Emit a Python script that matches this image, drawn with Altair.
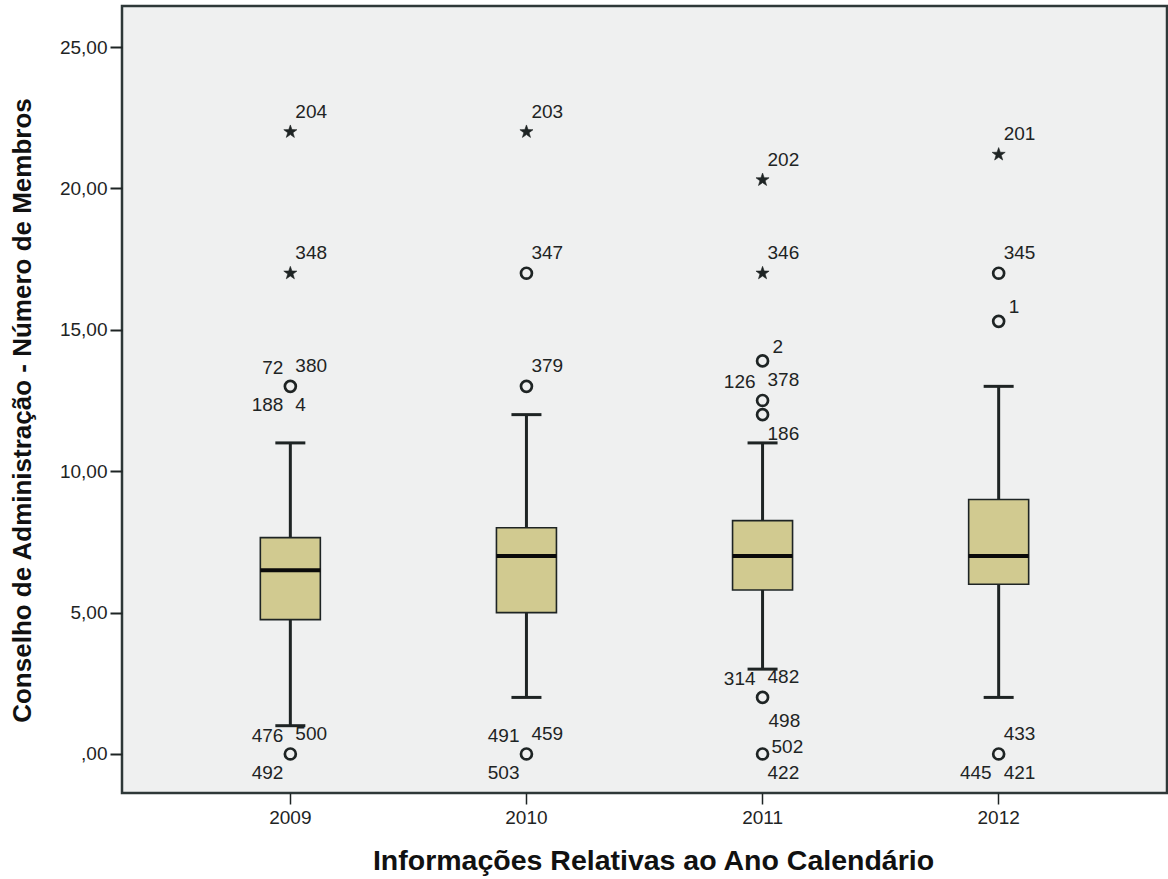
import altair as alt
import pandas as pd

# Box summary per calendar year
years = ["2009", "2010", "2011", "2012"]
whisker_low = [1.0, 2.0, 3.0, 2.0]
q1 = [4.75, 5.0, 5.8, 6.0]
median = [6.5, 7.0, 7.0, 7.0]
q3 = [7.65, 8.0, 8.25, 9.0]
whisker_high = [11.0, 12.0, 11.0, 13.0]

# Outlier points: year, value, kind ("o" = outlier, "x" = extreme)
out_year = ["2009", "2009", "2009", "2009",
            "2010", "2010", "2010", "2010",
            "2011", "2011", "2011", "2011", "2011", "2011", "2011",
            "2012", "2012", "2012", "2012"]
out_value = [22.0, 17.0, 13.0, 0.0,
             22.0, 17.0, 13.0, 0.0,
             20.3, 17.0, 13.9, 12.5, 12.0, 2.0, 0.0,
             21.2, 17.0, 15.3, 0.0]
out_kind = ["x", "x", "o", "o",
            "x", "o", "o", "o",
            "x", "x", "o", "o", "o", "o", "o",
            "x", "o", "o", "o"]

# Case labels next to outliers: year, value, case id, placement
lab_year = ["2009"] * 9 + ["2010"] * 6 + ["2011"] * 11 + ["2012"] * 6
lab_value = [22.0, 17.0, 13.0, 13.0, 13.0, 13.0, 0.0, 0.0, 0.0,
             22.0, 17.0, 13.0, 0.0, 0.0, 0.0,
             20.3, 17.0, 13.9, 12.5, 12.5, 12.0, 2.0, 2.0, 2.0, 0.0, 0.0,
             21.2, 17.0, 15.3, 0.0, 0.0, 0.0]
lab_id = ["204", "348", "72", "380", "188", "4", "476", "500", "492",
          "203", "347", "379", "491", "459", "503",
          "202", "346", "2", "126", "378", "186", "314", "482", "498", "502", "422",
          "201", "345", "1", "433", "445", "421"]
lab_pos = ["ne", "ne", "nw", "ne", "sw", "se", "nw", "ne", "sw",
           "ne", "ne", "ne", "nw", "ne", "sw",
           "ne", "ne", "e", "nw", "ne", "se", "nw", "ne", "s2", "e2", "se",
           "ne", "ne", "e", "ne", "sw", "se"]

boxes = pd.DataFrame({"ano": years, "lo": whisker_low, "q1": q1, "med": median,
                      "q3": q3, "hi": whisker_high})
outs = pd.DataFrame({"ano": out_year, "v": out_value, "kind": out_kind})
labels = pd.DataFrame({"ano": lab_year, "v": lab_value, "id": lab_id, "pos": lab_pos})

FONT = "Liberation Sans"
INK = "#1e2424"

x_enc = alt.X("ano:N", scale=alt.Scale(domain=years, paddingInner=0, paddingOuter=0.213),
              axis=alt.Axis(title="Informações Relativas ao Ano Calendário", labelAngle=0,
                            labelFont=FONT, labelFontSize=19, labelColor=INK, labelPadding=4,
                            tickSize=11, tickWidth=1.5, tickColor=INK, domain=False,
                            titleFont=FONT, titleFontSize=28.5, titleFontWeight="bold",
                            titleColor="#111", titleX=531, titleY=67,
                            titleBaseline="middle", titleAlign="center"))
y_scale = alt.Scale(domain=[-1.38, 26.45], nice=False, zero=False)
y_axis = alt.Axis(title="Conselho de Administração - Número de Membros",
                  values=[0, 5, 10, 15, 20, 25],
                  labelExpr="datum.value == 0 ? ',00' : replace(format(datum.value, '.2f'), '.', ',')",
                  labelFont=FONT, labelFontSize=19, labelColor=INK, labelPadding=3,
                  tickSize=12, tickWidth=2, tickColor=INK, domain=False, grid=False,
                  titleFont=FONT, titleFontSize=26, titleFontWeight="bold", titleColor="#111",
                  titleAngle=270, titleX=-100, titleY=404, titleAlign="center",
                  titleBaseline="middle")

base = alt.Chart(boxes).encode(x=x_enc)

whisk_lo = base.mark_rule(color=INK, strokeWidth=3).encode(
    y=alt.Y("lo:Q", scale=y_scale, axis=y_axis), y2="q1:Q")
whisk_hi = base.mark_rule(color=INK, strokeWidth=3).encode(y=alt.Y("q3:Q"), y2="hi:Q")
box = base.mark_bar(size=60, color="#d1ca90", stroke=INK, strokeWidth=1.6, opacity=1).encode(
    y=alt.Y("q1:Q"), y2="q3:Q")
med = base.mark_tick(size=60, thickness=4, color="#0a0a0a", opacity=1).encode(y=alt.Y("med:Q"))
cap_lo = base.mark_tick(size=30, thickness=3, color=INK, opacity=1).encode(y=alt.Y("lo:Q"))
cap_hi = base.mark_tick(size=30, thickness=3, color=INK, opacity=1).encode(y=alt.Y("hi:Q"))

outs_base = alt.Chart(outs).encode(x=alt.X("ano:N"), y=alt.Y("v:Q"))
circles = outs_base.transform_filter(alt.datum.kind == "o").mark_point(
    shape="circle", size=120, filled=False, stroke=INK, strokeWidth=2.7, opacity=1)
star_path = ("M0,-1L0.235,-0.324L0.951,-0.309L0.38,0.124L0.588,0.809L0,0.4"
             "L-0.588,0.809L-0.38,0.124L-0.951,-0.309L-0.235,-0.324Z")
stars = outs_base.transform_filter(alt.datum.kind == "x").mark_point(
    shape=star_path, size=190, filled=True, fill=INK, stroke=INK, strokeWidth=0.6, opacity=1)

# Text placement around each point: (align, dx, dy)
placements = {
    "ne": ("left", 5, -20),
    "nw": ("right", -7, -18),
    "se": ("left", 5, 19),
    "sw": ("right", -7, 19),
    "e": ("left", 10, -14),
    "e2": ("left", 9, -7),
    "s2": ("left", 6, 24),
}
text_layers = []
for key, (align, dx, dy) in placements.items():
    text_layers.append(
        alt.Chart(labels).transform_filter(alt.datum.pos == key)
        .mark_text(align=align, baseline="middle", dx=dx, dy=dy, font=FONT,
                   fontSize=19, color=INK)
        .encode(x=alt.X("ano:N"), y=alt.Y("v:Q"), text="id:N")
    )

chart = alt.layer(whisk_lo, whisk_hi, box, med, cap_lo, cap_hi, circles, stars,
                  *text_layers).properties(
    width=1045, height=787,
    autosize=alt.AutoSizeParams(type="none"),
    padding={"left": 122, "top": 6, "right": 1, "bottom": 86},
    background="white",
).configure_view(fill="#eff0f0", stroke="#2e3838", strokeWidth=2.5)

chart.save("out.html", embed_options={"renderer": "svg", "actions": False})
